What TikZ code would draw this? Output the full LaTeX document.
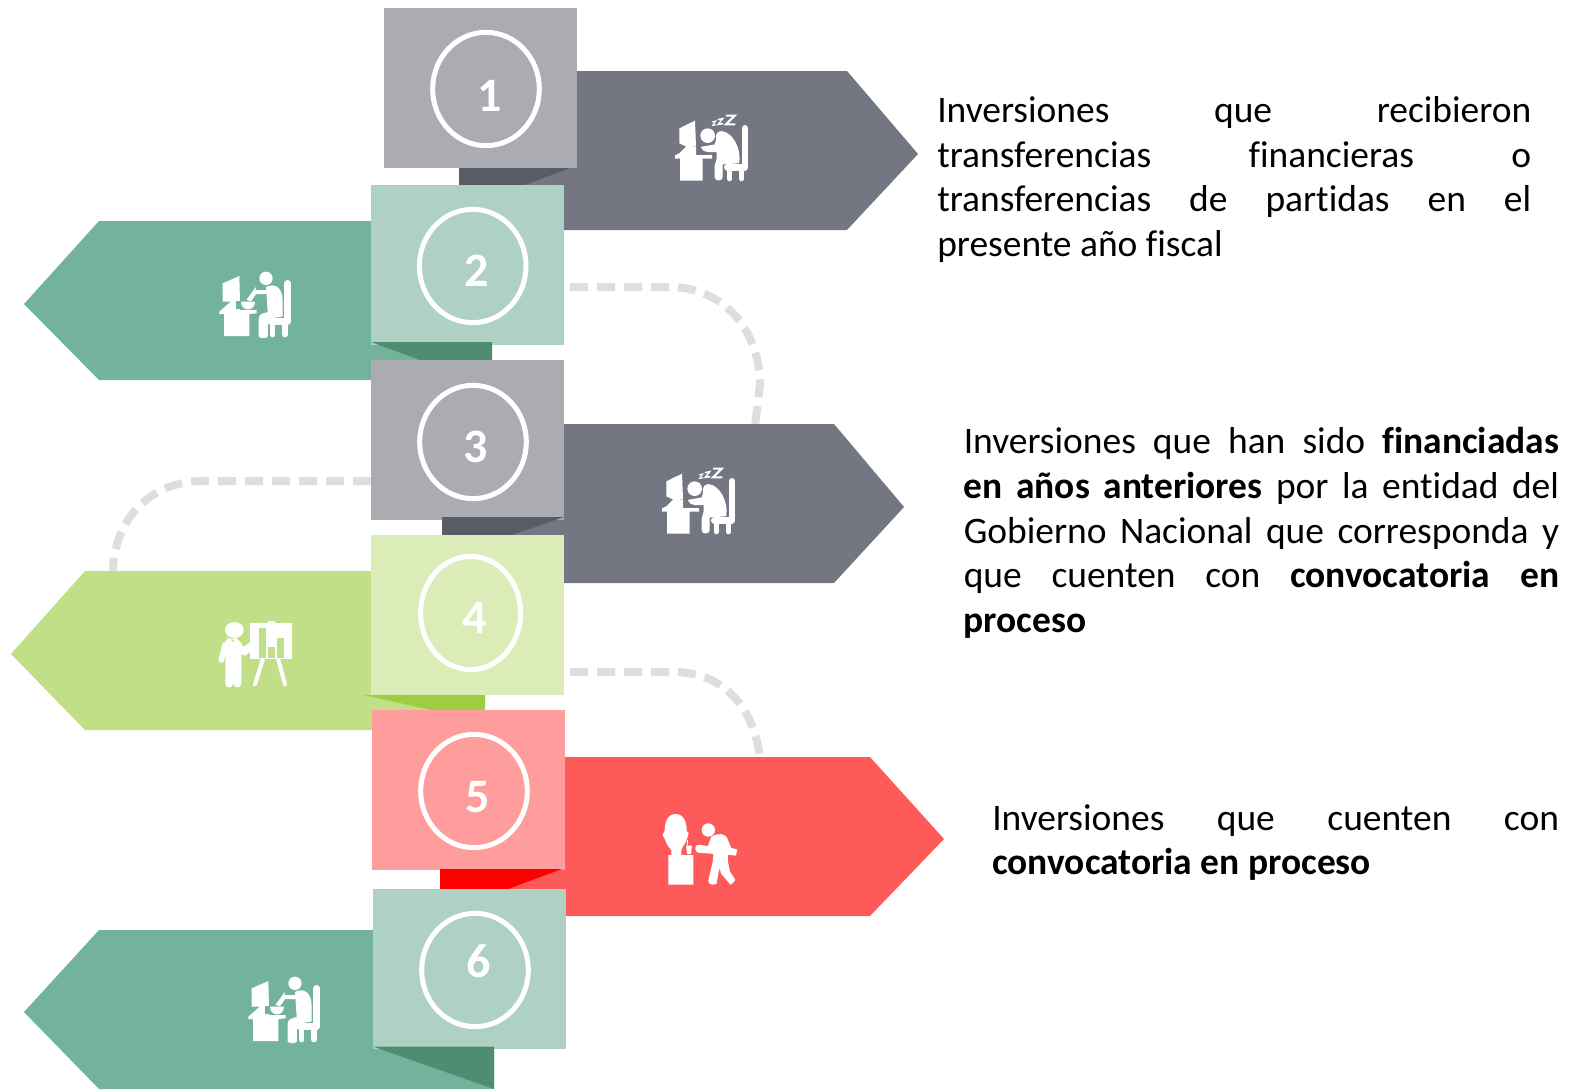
\documentclass[tikz,border=0pt]{standalone}
\usepackage{fontspec}
\setmainfont{Carlito}[Ligatures=CommonOff]
\usetikzlibrary{shapes.geometric}
\definecolor{grayA}{HTML}{747681}
\definecolor{grayB}{HTML}{ABACB1}
\definecolor{grayC}{HTML}{5A5C65}
\definecolor{greenA}{HTML}{74B39B}
\definecolor{greenB}{HTML}{AED1C4}
\definecolor{greenC}{HTML}{4F8C74}
\definecolor{limeA}{HTML}{C1DF87}
\definecolor{limeB}{HTML}{DCECB8}
\definecolor{limeC}{HTML}{9FCD40}
\definecolor{redA}{HTML}{FF5A5A}
\definecolor{redB}{HTML}{FF9C9C}
\definecolor{redC}{HTML}{FF0000}
\definecolor{dashgray}{HTML}{DEDEDE}
\newlength{\jw}
\newcommand{\jl}[1]{\makebox[\jw][s]{#1}}
\tikzset{
  boxnode/.style={rectangle,inner sep=0pt,outer sep=0pt,anchor=north west,minimum width=144.75pt,minimum height=120.2pt},
  ring/.style={ellipse,draw=white,line width=3.75pt,inner sep=0pt,outer sep=0pt,minimum width=80pt,minimum height=85pt},
  num/.style={text=white,inner sep=0pt,font=\fontsize{36}{36}\selectfont\bfseries},
  dashline/.style={draw=dashgray,line width=6pt,dash pattern=on 13.5pt off 6.75pt},
  para/.style={anchor=north west,inner sep=0pt,align=left,font=\fontsize{28.1}{33.6}\selectfont},
  iconscale/.style={x=0.25pt,y=-0.25pt},
  il/.style={draw=white,line cap=round,line join=round,line width=#1},
  fat/.style={fill=white,draw=white,line width=.9pt,line join=round},
}
\newcommand{\SleepIcon}[1]{%
  \fill[white] (118,115) -- (165,92) -- (168,168) -- (140,168) -- (118,190) -- (105,196) -- (105,206) -- (120,206) -- (120,272) -- (188,272) -- (188,206) -- (216,206) -- (216,195) -- (168,195) -- (168,170) -- (135,168) -- (118,160) -- cycle;
  \fill[white] (203,137) circle (22);
  \path[fat] (185,172) .. controls (190,188) and (215,185) .. (232,184) -- (232,205) .. controls (232,215) and (226,218) .. (226,225) -- (226,262) .. controls (226,272) and (246,272) .. (246,262) -- (246,222) -- (296,218) .. controls (302,180) and (280,130) .. (245,125) .. controls (232,125) and (228,135) .. (230,150) -- (225,165) -- cycle;
  \draw[il=5pt] (315,115) -- (315,232) -- (262,232);
  \draw[il=4pt] (268,236) -- (268,266);
  \draw[il=4pt] (305,236) -- (305,266);
  \draw[white,line width=1.6pt,line join=miter] (258,77) -- (284,77) -- (258,103) -- (286,103);
  \draw[white,line width=1.1pt] (233,89) -- (248,86) -- (235,103) -- (250,101);
  \draw[white,line width=.8pt] (216,96) -- (227,93) -- (218,106) -- (229,104);
}
\newcommand{\EatIcon}[1]{%
  \fill[white] (68,100) -- (118,78) -- (120,155) -- (92,155) -- (58,185) -- (58,192) -- (72,192) -- (72,258) -- (148,258) -- (148,192) -- (170,190) -- (170,180) -- (120,180) -- (120,155) -- (68,155) -- cycle;
  \fill[#1] (108,152) rectangle (122,178);
  \fill[white] (123,155) -- (165,155) .. controls (165,170) and (155,178) .. (144,178) .. controls (133,178) and (123,170) .. (123,155) -- cycle;
  \fill[white] (198,85) circle (20);
  \draw[white,line width=.8pt] (168,113) -- (141,150);
  \draw[il=3pt] (150,148) -- (165,126) -- (205,126);
  \path[fat] (200,112) .. controls (225,100) and (245,115) .. (246,150) -- (246,198) -- (202,205) -- (202,258) .. controls (202,264) and (178,264) .. (178,258) -- (178,205) .. controls (178,192) and (195,190) .. (205,188) -- cycle;
  \draw[il=5pt] (263,100) -- (263,215) -- (212,215);
  \draw[il=4pt] (218,220) -- (218,254);
  \draw[il=4pt] (255,220) -- (255,254);
}
\newcommand{\BoardIcon}[1]{%
  \fill[white] (103,90) ellipse (28 and 24);
  \fill[white] (82,112) -- (97,118) -- (112,112) -- (112,124) -- (97,120) -- (82,124) -- cycle;
  \path[fat] (78,122) -- (88,120) -- (97,128) -- (112,120) -- (120,128) -- (130,143) -- (160,122) .. controls (172,122) and (175,135) .. (168,140) -- (135,165) -- (122,160) -- (122,250) .. controls (122,264) and (104,264) .. (102,250) -- (100,210) -- (98,250) .. controls (96,264) and (78,264) .. (78,250) -- cycle;
  \draw[il=4.2pt] (75,135) -- (64,180);
  \fill[white] (205,62) rectangle (225,72);
  \fill[white] (150,70) rectangle (275,178);
  \fill[#1] (178,85) rectangle (198,175);
  \fill[#1] (205,141) rectangle (225,175);
  \fill[#1] (232,114) rectangle (252,175);
  \draw[il=3pt] (188,180) -- (165,253);
  \draw[il=3pt] (235,180) -- (255,253);
}
\newcommand{\BustIcon}[1]{%
  \fill[white] (107,72) .. controls (130,72) and (140,95) .. (140,122) -- (146,130) -- (138,155) .. controls (130,170) and (125,172) .. (124,180) -- (124,195) -- (160,195) -- (160,284) -- (85,284) -- (85,195) -- (94,195) -- (94,180) .. controls (85,170) and (78,160) .. (76,150) -- (68,135) -- (74,122) .. controls (74,95) and (84,72) .. (107,72) -- cycle;
  \fill[white] (138,167) -- (156,167) -- (153,192) -- (141,192) -- cycle;
  \draw[white,line width=.6pt] (143,150) -- (143,165);
  \fill[white] (205,120) circle (20);
  \path[fat] (215,142) .. controls (235,130) and (255,130) .. (262,150) -- (272,175) -- (290,180) -- (286,195) -- (262,192) -- (262,215) -- (268,245) -- (284,270) -- (272,282) -- (245,250) -- (238,225) -- (228,280) .. controls (215,285) and (205,280) .. (207,270) -- (220,215) -- (222,190) -- (175,186) .. controls (165,185) and (165,166) .. (175,166) -- (205,170) -- cycle;
}
\begin{document}
\begin{tikzpicture}[x=0.75pt,y=-0.75pt]
\useasboundingbox (0,0) rectangle (1588,1089);
\fill[white] (0,0) rectangle (1588,1089);

% dashed connectors
\coordinate (d1a) at (570,287);
\coordinate (d1b) at (669,287);
\coordinate (d1c) at (760,385);
\coordinate (d1d) at (755,426);
\coordinate (d2a) at (371,481);
\coordinate (d2b) at (203,481);
\coordinate (d2c) at (113,573);
\coordinate (d3a) at (570,672);
\coordinate (d3b) at (674,672);
\coordinate (d3c) at (760,759);
\draw[dashline] (d1a) -- (d1b) .. controls (728,287) and (760,335) .. (d1c) -- (d1d);
\draw[dashline] (d2a) -- (d2b) .. controls (150,481) and (113,520) .. (d2c);
\draw[dashline] (d3a) -- (d3b) .. controls (725,672) and (755,710) .. (d3c);

% ribbons
\fill[grayA] (500,71) -- (847,71) -- (918,154) -- (847,230) -- (500,230) -- cycle;
\fill[grayC] (459,165) -- (578,165) -- (525,185) -- (459,185) -- cycle;
\node[boxnode,fill=grayB] (box1) at (384,8) {};
\fill[greenA] (440,221) -- (99,221) -- (24,304) -- (99,380) -- (440,380) -- cycle;
\node[boxnode,fill=greenB] (box2) at (371,185) {};
\fill[greenC] (371,342) -- (492,342) -- (492,360) -- (420,360) -- cycle;
\fill[grayA] (500,424) -- (834,424) -- (904,507) -- (834,583) -- (500,583) -- cycle;
\node[boxnode,fill=grayB] (box3) at (371,360) {};
\fill[grayC] (442,517) -- (564,517) -- (512,535) -- (442,535) -- cycle;
\fill[limeA] (440,571) -- (85,571) -- (11,654) -- (85,730) -- (440,730) -- cycle;
\node[boxnode,fill=limeB] (box4) at (371,535) {};
\fill[limeC] (364,695) -- (485,695) -- (485,710) -- (431,710) -- cycle;
\fill[redA] (500,757) -- (870,757) -- (944,839) -- (870,916) -- (500,916) -- cycle;
\node[boxnode,fill=redB] (box5) at (372,710) {};
\fill[redC] (440,869) -- (562,869) -- (508,889) -- (440,889) -- cycle;
\fill[greenA] (380,930) -- (99,930) -- (24,1012) -- (99,1089) -- (494,1089) -- (494,1040) -- (380,1040) -- cycle;
\node[boxnode,fill=greenB] (box6) at (373,889) {};
\fill[greenC] (373,1046.5) -- (494,1046.5) -- (494,1089) -- cycle;

% rings and numbers
\node[ring] (ring1) at (486,89) {};
\node[ring] (ring2) at (472.7,266) {};
\node[ring] (ring3) at (473,442) {};
\node[ring,minimum width=75pt] (ring4) at (470.6,613) {};
\node[ring] (ring5) at (474,791) {};
\node[ring] (ring6) at (475,970) {};
\node[num] (num1) at (490,96) {1};
\node[num] (num2) at (477,271) {2};
\node[num] (num3) at (476,447) {3};
\node[num] (num4) at (475,618) {4};
\node[num] (num5) at (478,797) {5};
\node[num] (num6) at (479,961) {6};

% icons
\begin{scope}[shift={(640,90)},iconscale] \SleepIcon{grayA} \end{scope}
\begin{scope}[shift={(627,443)},iconscale] \SleepIcon{grayA} \end{scope}
\begin{scope}[shift={(200,250)},iconscale] \EatIcon{greenA} \end{scope}
\begin{scope}[shift={(229,955)},iconscale] \EatIcon{greenA} \end{scope}
\begin{scope}[shift={(200,600)},iconscale] \BoardIcon{limeA} \end{scope}
\begin{scope}[shift={(640,790)},iconscale] \BustIcon{redA} \end{scope}

% texts
\setlength{\jw}{445.5pt}
\node[para] (t1) at (937,96) {\jl{Inversiones que recibieron}\\\jl{transferencias financieras o}\\\jl{transferencias de partidas en el}\\presente año fiscal};
\setlength{\jw}{446.5pt}
\node[para] (t2) at (963.5,427) {\jl{Inversiones que han sido \textbf{financiadas}}\\\jl{\textbf{en años anteriores} por la entidad del}\\\jl{Gobierno Nacional que corresponda y}\\\jl{que cuenten con \textbf{convocatoria en}}\\\textbf{proceso}};
\setlength{\jw}{425pt}
\node[para] (t3) at (992,804) {\jl{Inversiones que cuenten con}\\\textbf{convocatoria en proceso}};
\end{tikzpicture}
\end{document}
